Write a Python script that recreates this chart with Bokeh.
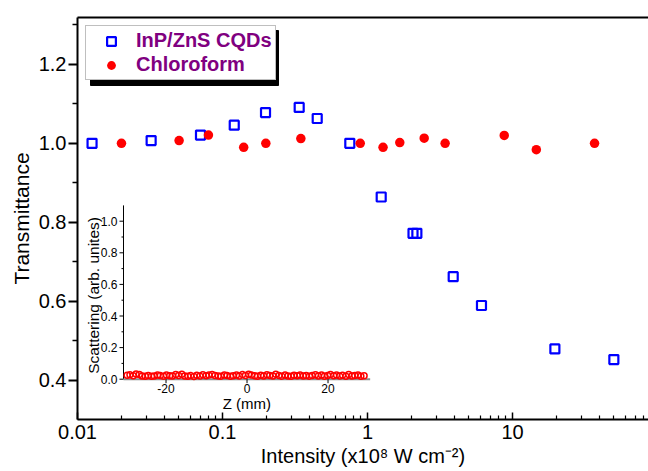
import math
from bokeh.plotting import figure
from bokeh.models import (Range1d, LinearAxis, FixedTicker, Legend, LegendItem,
                          CustomJSTickFormatter, ColumnDataSource, LinearScale)
from bokeh.core.properties import value
from bokeh.embed import file_html
from bokeh.resources import INLINE

# ---------------- data ----------------
CQD_I = [0.0126, 0.0322, 0.0705, 0.1205, 0.198, 0.338, 0.450, 0.755, 1.243,
         2.06, 2.19, 3.90, 6.11, 19.6, 50.0]
CQD_T = [1.000, 1.007, 1.021, 1.046, 1.078, 1.091, 1.063, 1.000, 0.864,
         0.772, 0.772, 0.662, 0.589, 0.479, 0.452]

CHL_I = [0.0201, 0.0502, 0.080, 0.140, 0.199, 0.347, 0.891, 1.28, 1.67,
         2.46, 3.43, 8.77, 14.6, 36.8]
CHL_T = [1.000, 1.007, 1.021, 0.990, 1.000, 1.012, 1.000, 0.990, 1.002,
         1.013, 1.000, 1.020, 0.984, 1.000]

X_TICKS = [0.01, 0.1, 1, 10]
Y_TICKS = [0.4, 0.6, 0.8, 1.0, 1.2]
Y_MINOR = [0.5, 0.7, 0.9, 1.1, 1.3]

INSET_Z = [-29.6, -28.9, -28.1, -27.4, -26.6, -25.9, -25.1, -24.4, -23.6, -22.9,
           -22.1, -21.4, -20.6, -19.9, -19.1, -18.4, -17.6, -16.9, -16.1, -15.4,
           -14.6, -13.9, -13.1, -12.4, -11.6, -10.9, -10.1, -9.4, -8.6, -7.9,
           -7.1, -6.4, -5.6, -4.9, -4.1, -3.4, -2.6, -1.9, -1.1, -0.4,
           0.4, 1.1, 1.9, 2.6, 3.4, 4.1, 4.9, 5.6, 6.4, 7.1,
           7.9, 8.6, 9.4, 10.1, 10.9, 11.6, 12.4, 13.1, 13.9, 14.6,
           15.4, 16.1, 16.9, 17.6, 18.4, 19.1, 19.9, 20.6, 21.4, 22.1,
           22.9, 23.6, 24.4, 25.1, 25.9, 26.6, 27.4, 28.1, 28.9]
INSET_S = [0.025, 0.028, 0.022, 0.033, 0.030, 0.021, 0.018, 0.024, 0.019, 0.020,
           0.027, 0.023, 0.018, 0.026, 0.022, 0.020, 0.029, 0.024, 0.031, 0.021,
           0.019, 0.023, 0.017, 0.025, 0.020, 0.028, 0.022, 0.026, 0.030, 0.024,
           0.021, 0.019, 0.027, 0.023, 0.018, 0.022, 0.026, 0.020, 0.029, 0.024,
           0.031, 0.027, 0.022, 0.019, 0.025, 0.021, 0.028, 0.023, 0.020, 0.032,
           0.024, 0.019, 0.026, 0.021, 0.018, 0.025, 0.022, 0.027, 0.020, 0.024,
           0.019, 0.023, 0.028, 0.021, 0.026, 0.018, 0.024, 0.030, 0.022, 0.027,
           0.020, 0.025, 0.019, 0.029, 0.021, 0.023, 0.026, 0.018, 0.022]

INSET_X_TICKS = [-20, 0, 20]
INSET_X_LABELS = ["-20", "0", "20"]
INSET_Y_TICKS = [0.0, 0.2, 0.4, 0.6, 0.8, 1.0]
INSET_Y_LABELS = ["0.0", "0.2", "0.4", "0.6", "0.8", "1.0"]
INSET_Y_MINOR = [0.1, 0.3, 0.5, 0.7, 0.9]

# ---------------- layout ----------------
FONT = "Liberation Sans"
W, H = 648, 471
BL, BT = 77, 17
FW = W - BL
FH = 402
BB = H - BT - FH

DECADE_PX = 145.0
X0, X1 = 0.01, 10 ** (-2 + FW / DECADE_PX)
Y0, Y1 = 0.30, 1.319
PX_Y = FH / (Y1 - Y0)

# legend box geometry (pixels) for its drop shadow
LG_MARGIN = 8
LG_W, LG_H = 188, 55
SH_OFF = 5

# inset geometry
IN_LEFT = 46.0
IN_BOT = 40.3
IZ0, IZ1 = -30.5, 30.4
IS0, IS1 = 0.0, 1.1
PX_Z = 4.05
PX_S = 158.0
ix_start = IZ0 - IN_LEFT / PX_Z
ix_end = ix_start + FW / PX_Z
iy_start = IS0 - IN_BOT / PX_S
iy_end = iy_start + FH / PX_S

p = figure(width=W, height=H, x_axis_type="log",
           x_range=Range1d(X0, X1), y_range=Range1d(Y0, Y1),
           output_backend="svg", toolbar_location=None,
           min_border_left=BL, min_border_right=0,
           min_border_top=BT, min_border_bottom=BB)
p.outline_line_color = None
p.grid.visible = False
p.background_fill_color = "white"
p.border_fill_color = "white"
p.extra_x_ranges = {"ix": Range1d(ix_start, ix_end)}
p.extra_y_ranges = {"iy": Range1d(iy_start, iy_end)}
p.extra_x_scales = {"ix": LinearScale()}
p.extra_y_scales = {"iy": LinearScale()}

# x axis
xa = p.xaxis[0]
xa.ticker = FixedTicker(ticks=X_TICKS,
                        minor_ticks=[m * d for d in X_TICKS for m in range(2, 10)])
xa.formatter = CustomJSTickFormatter(code="return tick.toString()")
xa.axis_line_width = 2
xa.axis_line_color = "black"
xa.major_tick_in = 7
xa.major_tick_out = 0
xa.major_tick_line_width = 1.5
xa.minor_tick_in = 4
xa.minor_tick_out = 0
xa.minor_tick_line_width = 1.2
xa.major_label_text_font = FONT
xa.major_label_text_font_size = "20px"
xa.major_label_text_color = "black"
xa.major_label_standoff = 5
xa.axis_label = "Intensity (x10\u2078 W cm\u207b\u00b2)"
xa.axis_label_text_font = FONT
xa.axis_label_text_font_size = "20px"
xa.axis_label_text_font_style = "normal"
xa.axis_label_text_color = "black"
xa.axis_label_standoff = 3

# y axis
ya = p.yaxis[0]
ya.ticker = FixedTicker(ticks=Y_TICKS, minor_ticks=Y_MINOR)
ya.formatter = CustomJSTickFormatter(code="return tick.toFixed(1)")
ya.axis_line_width = 2
ya.axis_line_color = "black"
ya.major_tick_in = 0
ya.major_tick_out = 9
ya.major_tick_line_width = 2
ya.minor_tick_in = 0
ya.minor_tick_out = 5
ya.minor_tick_line_width = 1.5
ya.major_label_text_font = FONT
ya.major_label_text_font_size = "20px"
ya.major_label_text_color = "black"
ya.major_label_standoff = 2
ya.axis_label = "Transmittance"
ya.axis_label_text_font = FONT
ya.axis_label_text_font_size = "21px"
ya.axis_label_text_font_style = "normal"
ya.axis_label_text_color = "black"
ya.axis_label_standoff = 3

# top border line
top = LinearAxis(ticker=FixedTicker(ticks=[]), axis_line_width=2,
                 axis_line_color="black", major_tick_in=0, major_tick_out=0,
                 minor_tick_in=0, minor_tick_out=0, major_label_standoff=0,
                 major_label_text_font_size="0px")
p.add_layout(top, "above")

# legend drop shadow (black box offset from the legend box)
def xpx(px):
    return 10 ** (math.log10(X0) + px / DECADE_PX)

def ypx(px):
    return Y1 - px / PX_Y

p.quad(left=[xpx(LG_MARGIN + SH_OFF)], right=[xpx(LG_MARGIN + SH_OFF + LG_W)],
       top=[ypx(LG_MARGIN + SH_OFF)], bottom=[ypx(LG_MARGIN + SH_OFF + LG_H)],
       fill_color="black", line_color="black")

# main series
src_cqd = ColumnDataSource(dict(x=CQD_I, y=CQD_T))
src_chl = ColumnDataSource(dict(x=CHL_I, y=CHL_T))
r_cqd = p.scatter("x", "y", source=src_cqd, marker="square", size=9,
                  fill_color=None, line_color="#0000ff", line_width=2.2)
r_chl = p.scatter("x", "y", source=src_chl, marker="circle", size=9.5,
                  fill_color="#ff0000", line_color=None)

legend = Legend(items=[LegendItem(label="InP/ZnS CQDs", renderers=[r_cqd]),
                       LegendItem(label="Chloroform", renderers=[r_chl])],
                location="top_left", margin=LG_MARGIN, padding=3, spacing=1,
                glyph_width=44, glyph_height=22, label_height=22,
                label_standoff=3,
                label_text_font=FONT, label_text_font_size="20px",
                label_text_font_style="bold", label_text_color="#800080",
                background_fill_color="white", background_fill_alpha=1.0,
                border_line_color="#808080", border_line_width=1)
p.add_layout(legend, "center")

# ---------------- inset ----------------
kw = dict(x_range_name="ix", y_range_name="iy")
# y axis line & ticks
p.segment(x0=[IZ0], y0=[IS0], x1=[IZ0], y1=[IS1], line_color="black",
          line_width=1, **kw)
p.segment(x0=[IZ0] * len(INSET_Y_TICKS), y0=INSET_Y_TICKS,
          x1=[IZ0 - 4 / PX_Z] * len(INSET_Y_TICKS), y1=INSET_Y_TICKS,
          line_color="black", line_width=1, **kw)
p.segment(x0=[IZ0] * len(INSET_Y_MINOR), y0=INSET_Y_MINOR,
          x1=[IZ0 - 2 / PX_Z] * len(INSET_Y_MINOR), y1=INSET_Y_MINOR,
          line_color="black", line_width=1, **kw)
p.text(x=[IZ0] * len(INSET_Y_TICKS), y=INSET_Y_TICKS, text=INSET_Y_LABELS,
       x_offset=-6, text_align="right", text_baseline="middle",
       text_font=value(FONT), text_font_size="12px", text_color="black", **kw)
# x axis line & ticks
p.segment(x0=[IZ0], y0=[IS0], x1=[IZ1], y1=[IS0], line_color="#8c8c8c",
          line_width=2, **kw)
p.segment(x0=INSET_X_TICKS, y0=[IS0] * len(INSET_X_TICKS),
          x1=INSET_X_TICKS, y1=[IS0 - 4 / PX_S] * len(INSET_X_TICKS),
          line_color="black", line_width=1, **kw)
p.text(x=INSET_X_TICKS, y=[IS0] * len(INSET_X_TICKS), text=INSET_X_LABELS,
       y_offset=5, text_align="center", text_baseline="top",
       text_font=value(FONT), text_font_size="12px", text_color="black", **kw)
# axis labels
p.text(x=[(IZ0 + IZ1) / 2], y=[IS0], text=["Z (mm)"], y_offset=16,
       text_align="center", text_baseline="top", text_font=value(FONT),
       text_font_size="15px", text_color="black", **kw)
p.text(x=[IZ0], y=[0.53], text=["Scattering (arb. unites)"], x_offset=-30,
       angle=math.pi / 2, text_align="center", text_baseline="middle",
       text_font=value(FONT), text_font_size="15.5px", text_color="black", **kw)
# inset data
p.scatter(INSET_Z, INSET_S, marker="circle", size=6, fill_color=None,
          line_color="#ff0000", line_width=1.5, **kw)

open("out.html", "w").write(file_html(p, INLINE))
